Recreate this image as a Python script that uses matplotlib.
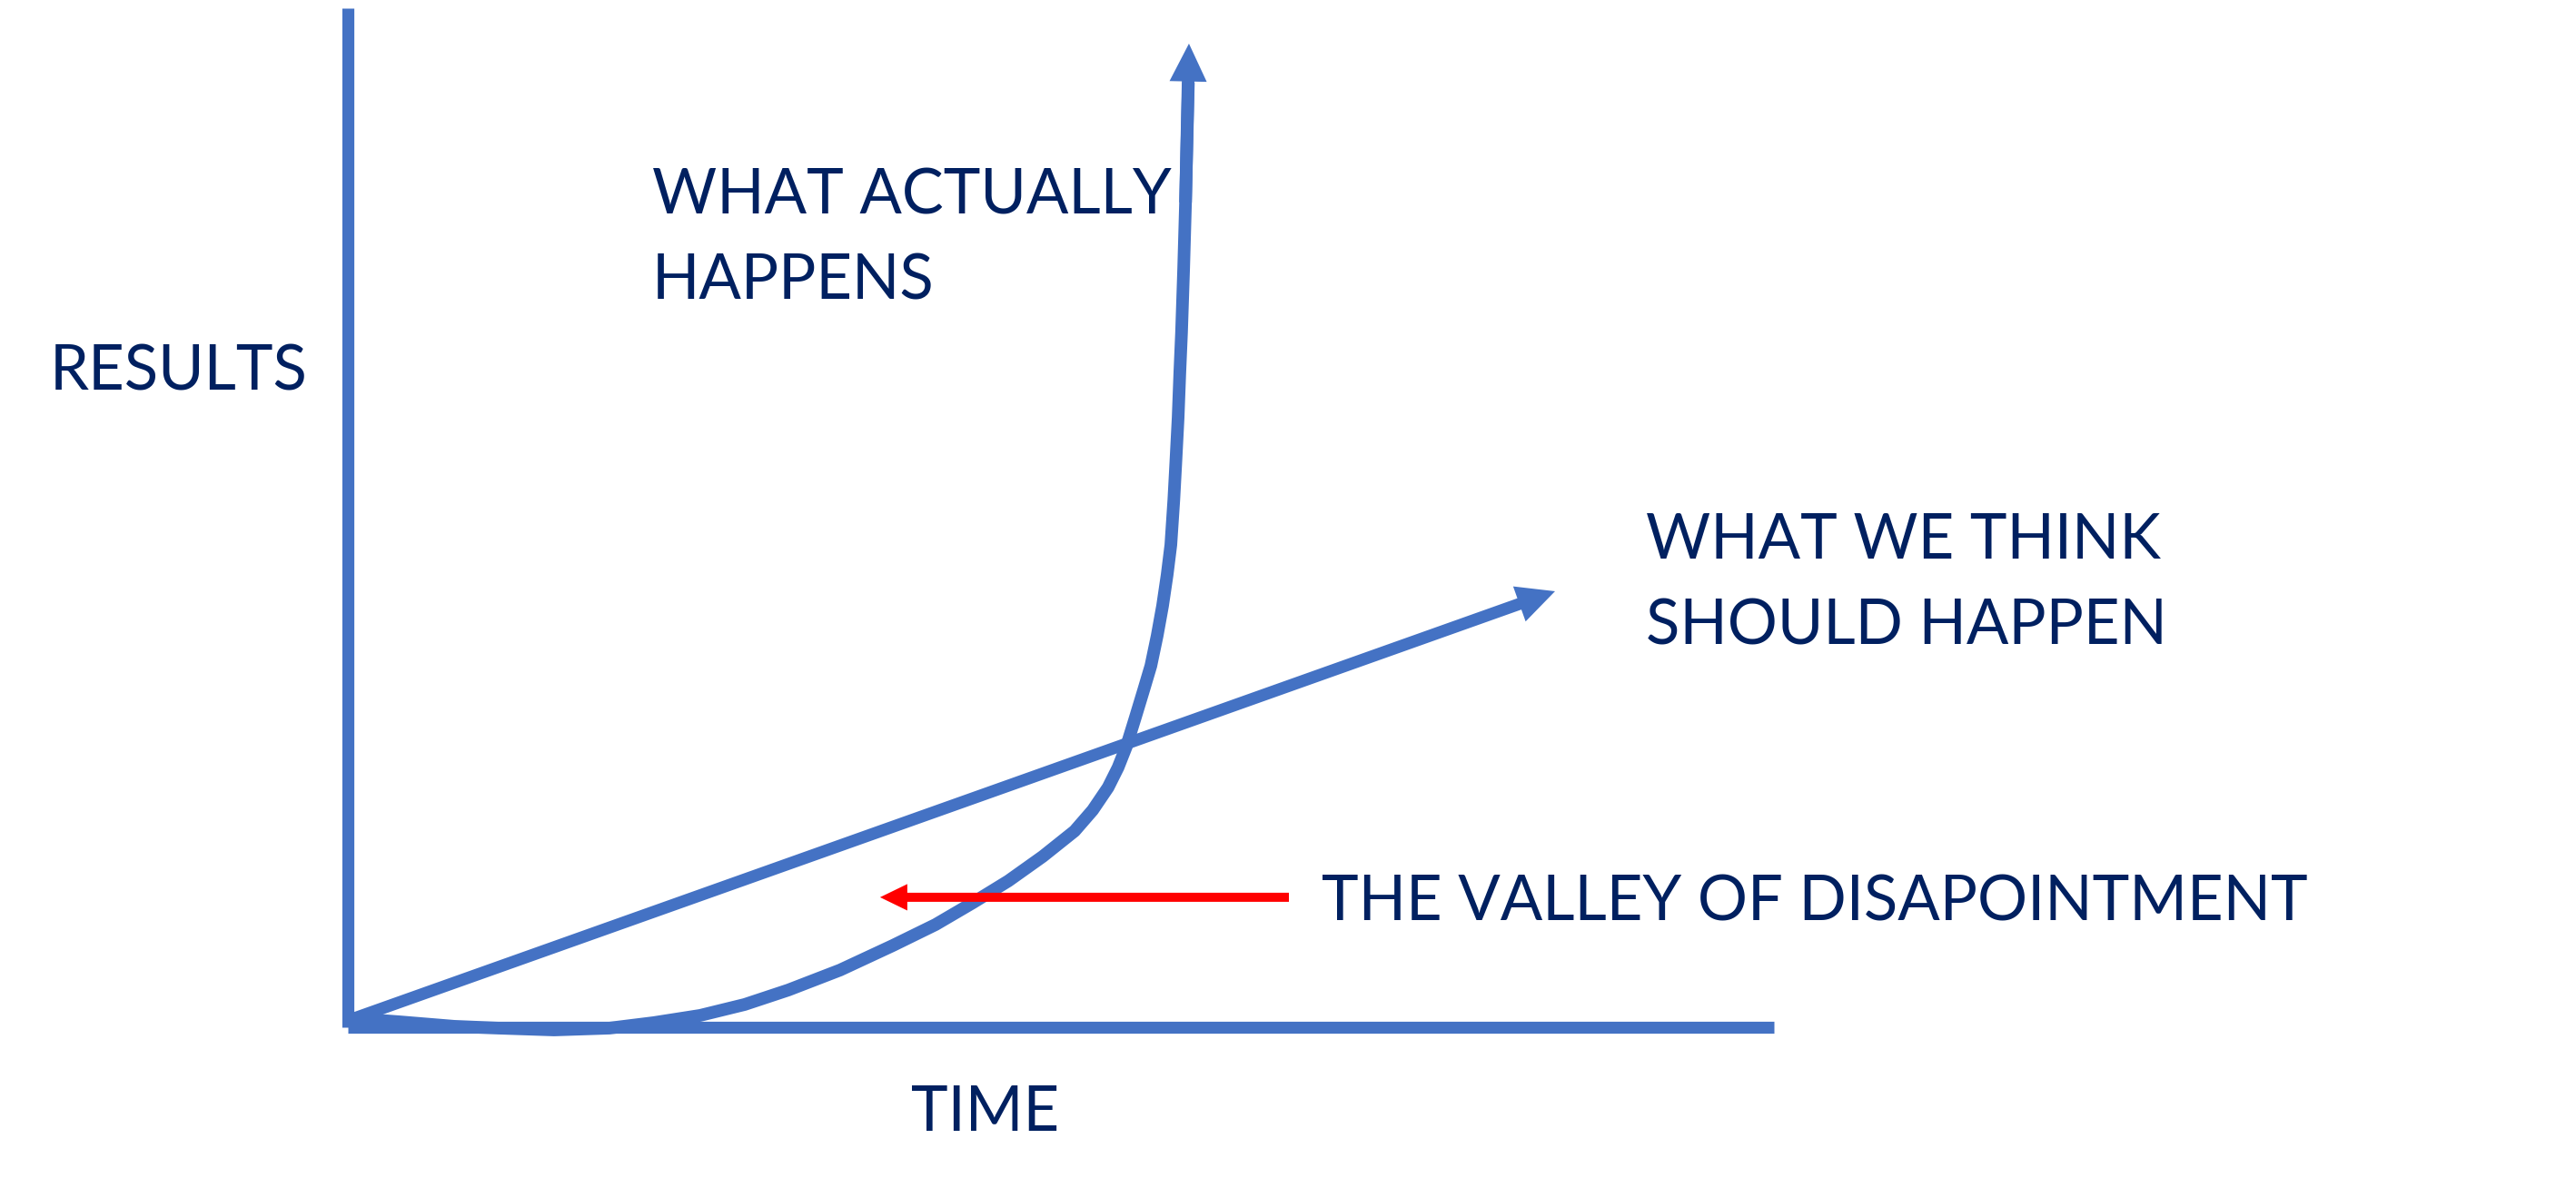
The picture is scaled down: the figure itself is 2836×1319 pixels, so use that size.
import numpy as np
import matplotlib.pyplot as plt

# Chart units: time and results both run 0..100 along the drawn axes
axis_len = 100

# "What actually happens" curve (time, results), last point is the arrow tip
actual_t = [0.19, 3.63, 7.45, 10.57, 14.46, 18.34, 21.46, 24.71, 27.83, 30.89, 34.52,
            38.22, 41.21, 43.82, 46.31, 48.73, 50.96, 52.23, 53.31, 54.01, 54.59,
            55.22, 55.80, 56.31, 56.75, 57.13, 57.45, 57.71, 57.92, 58.06, 58.22,
            58.34, 58.46, 58.61, 58.74, 58.85, 58.94, 58.98]
actual_r = [0.89, 0.53, 0.09, -0.09, -0.27, -0.09, 0.45, 1.16, 2.23, 3.65, 5.61,
            8.02, 10.07, 12.21, 14.35, 16.76, 19.25, 21.30, 23.53, 25.49, 27.54,
            30.39, 33.07, 35.47, 38.41, 41.35, 44.39, 47.33, 51.78, 55.44, 59.80,
            64.26, 68.18, 74.51, 80.93, 87.43, 92.69, 96.52]

# "What we think should happen" straight line
expected_t = [0.3, 84.65]
expected_r = [0.8, 42.78]

# valley of disappointment pointer
valley_t = [65.99, 37.32]
valley_r = [12.75, 12.75]

# label text -> (time, results) of the last line's baseline
labels = {
    'RESULTS': (-20.89, 62.48),
    'WHAT ACTUALLY\nHAPPENS': (21.34, 71.39),
    'WHAT WE THINK\nSHOULD HAPPEN': (91.02, 37.52),
    'THE VALLEY OF DISAPOINTMENT': (68.28, 10.43),
    'TIME': (39.49, -10.16),
}

blue = '#4472C4'
navy = '#002060'
red = '#FF0000'

fig = plt.figure(figsize=(28.36, 13.19), dpi=100)
ax = fig.add_axes([0, 0, 1, 1])
ax.set_xlim(-24.39, 156.24)
ax.set_ylim(-16.76, 100.80)
ax.axis('off')

# axes
ax.plot([0, 0], [0, axis_len], color=blue, lw=9.5, solid_capstyle='butt')
ax.plot([0, axis_len], [0, 0], color=blue, lw=9.5, solid_capstyle='butt')

# actual curve, shaft stops at the head base
ax.plot(actual_t[:-1], actual_r[:-1], color=blue, lw=10, solid_capstyle='butt',
        solid_joinstyle='round')
ax.annotate('', xy=(actual_t[-1], actual_r[-1]), xytext=(actual_t[-4], actual_r[-4]),
            arrowprops=dict(arrowstyle='simple,head_length=3.0,head_width=2.95,tail_width=1.0',
                            fc=blue, ec='none', lw=0, mutation_scale=10,
                            shrinkA=0, shrinkB=0))

# expected straight line
ax.annotate('', xy=(expected_t[1], expected_r[1]), xytext=(expected_t[0], expected_r[0]),
            arrowprops=dict(arrowstyle='simple,head_length=3.0,head_width=2.95,tail_width=0.95',
                            fc=blue, ec='none', lw=0, mutation_scale=10,
                            shrinkA=0, shrinkB=0))

# red pointer
ax.annotate('', xy=(valley_t[1], valley_r[1]), xytext=(valley_t[0], valley_r[0]),
            arrowprops=dict(arrowstyle='simple,head_length=2.16,head_width=2.1,tail_width=0.72',
                            fc=red, ec='none', lw=0, mutation_scale=10,
                            shrinkA=0, shrinkB=0))

for txt, (t, r) in labels.items():
    ax.text(t, r, txt, color=navy, fontsize=49.5, family='Lato',
            ha='left', va='baseline', linespacing=1.62)

fig.savefig('out.png', dpi=100, facecolor='white')
